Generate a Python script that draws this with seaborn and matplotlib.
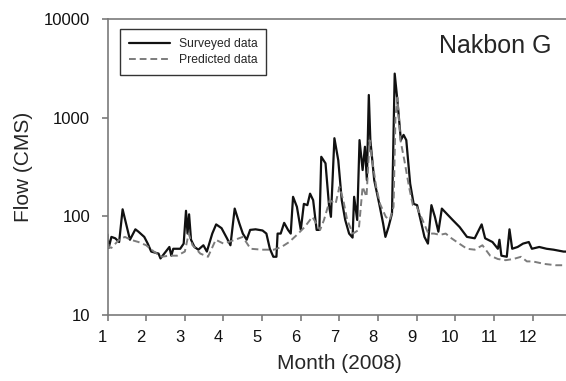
import matplotlib
matplotlib.use("Agg")
import matplotlib.pyplot as plt
import matplotlib.transforms as mtransforms
import seaborn as sns
import pandas as pd

# surveyed flow (month position, CMS)
surveyed_month = [1.0, 1.03, 1.1, 1.2, 1.3, 1.39, 1.58, 1.72, 1.8, 1.95,
                  2.04, 2.13, 2.32, 2.37, 2.6, 2.65, 2.7, 2.88, 2.97, 3.03,
                  3.07, 3.11, 3.16, 3.25, 3.35, 3.48, 3.57, 3.71, 3.81, 3.95,
                  4.09, 4.18, 4.29, 4.41, 4.5, 4.6, 4.69, 4.83, 5.01, 5.11,
                  5.2, 5.29, 5.37, 5.4, 5.48, 5.57, 5.67, 5.74, 5.8, 5.9,
                  6.0, 6.08, 6.17, 6.24, 6.32, 6.41, 6.48, 6.53, 6.64, 6.73,
                  6.78, 6.87, 6.97, 7.06, 7.15, 7.25, 7.34, 7.38, 7.46, 7.52,
                  7.6, 7.66, 7.71, 7.76, 7.8, 7.9, 8.03, 8.13, 8.19, 8.27,
                  8.36, 8.43, 8.5, 8.59, 8.66, 8.73, 8.83, 8.92, 9.01, 9.1,
                  9.2, 9.29, 9.38, 9.47, 9.56, 9.65, 9.79, 9.93, 10.11, 10.3,
                  10.5, 10.68, 10.77, 10.96, 11.1, 11.14, 11.19, 11.33, 11.4, 11.47,
                  11.61, 11.75, 11.9, 11.98, 12.17, 12.36, 12.54, 12.8, 13.0]
surveyed_flow = [65, 48, 62, 60, 55, 118, 58, 74, 70, 62,
                 53, 44, 42, 37.5, 49, 40, 47, 47, 53, 114,
                 67, 105, 58, 49, 46, 51, 44, 67, 83, 76,
                 60, 51, 120, 85, 67, 58, 73, 74, 72, 67,
                 47, 39, 39, 67, 67, 86, 73, 67, 158, 125,
                 73, 134, 130, 170, 146, 73, 73, 402, 345, 130,
                 99, 620, 370, 146, 92, 67, 61, 158, 92, 593,
                 295, 508, 233, 1700, 593, 233, 134, 85, 62, 78,
                 107, 2800, 1500, 593, 670, 593, 215, 134, 130, 92,
                 62, 53, 130, 99, 70, 120, 105, 92, 78, 62,
                 60, 83, 60, 55, 47, 58, 40, 39, 74, 47,
                 49, 53, 55, 47, 49, 47, 46, 44, 44]

# predicted flow
predicted_month = [1.0, 1.03, 1.1, 1.3, 1.45, 1.6, 1.8, 2.0, 2.2, 2.4,
                   2.6, 2.8, 3.0, 3.1, 3.2, 3.4, 3.6, 3.8, 4.0, 4.3,
                   4.5, 4.7, 5.0, 5.3, 5.5, 5.7, 5.9, 6.1, 6.3, 6.5,
                   6.6, 6.75, 6.9, 7.0, 7.1, 7.2, 7.35, 7.5, 7.6, 7.7,
                   7.78, 7.85, 7.95, 8.05, 8.2, 8.3, 8.4, 8.45, 8.5, 8.58,
                   8.68, 8.8, 8.9, 9.0, 9.15, 9.3, 9.45, 9.6, 9.75, 9.9,
                   10.1, 10.3, 10.5, 10.7, 10.9, 11.1, 11.3, 11.5, 11.7, 11.85,
                   12.0, 12.3, 12.6, 13.0]
predicted_flow = [67, 49, 48, 58, 62, 58, 55, 51, 44, 39,
                  40, 40, 44, 67, 51, 42, 39, 58, 53, 58,
                  62, 47, 46, 46, 49, 55, 65, 78, 99, 73,
                  92, 146, 134, 200, 146, 92, 67, 73, 200, 158,
                  590, 370, 200, 134, 99, 92, 125, 1020, 1600, 590,
                  370, 200, 130, 125, 92, 67, 67, 65, 67, 60,
                  53, 47, 46, 51, 40, 37, 36, 37, 39, 35,
                  35, 33, 32, 32]

month_ticks = list(range(1, 13))
flow_ticks = [10, 100, 1000, 10000]

sns.set_style("ticks")
plt.rcParams['font.family'] = ['Liberation Sans', 'DejaVu Sans']

surv = pd.DataFrame({'month': surveyed_month, 'flow': surveyed_flow})
pred = pd.DataFrame({'month': predicted_month, 'flow': predicted_flow})

fig = plt.figure(figsize=(5.66, 3.81), dpi=100)
ax = fig.add_axes([0.190, 0.173, 0.8194, 0.777])

sns.lineplot(x='month', y='flow', data=surv, ax=ax, color='#111111',
             linewidth=1.6, label='Surveyed data')
sns.lineplot(x='month', y='flow', data=pred, ax=ax, color='#7c7c7c',
             linewidth=1.4, label='Predicted data')
ax.lines[1].set_dashes([3.5, 2])

ax.set_yscale('log')
ax.set_ylim(10, 10000)
ax.set_xlim(1, 13)
ax.set_xticks(month_ticks)
ax.set_yticks(flow_ticks)
ax.set_yticklabels([str(v) for v in flow_ticks])
ax.minorticks_off()
ax.tick_params(axis='both', labelsize=12, length=4.5, width=1.2,
               color='#7a7a7a', labelcolor='#111111', direction='out')
ax.tick_params(axis='y', pad=8)
ax.tick_params(axis='x', pad=6)

shift = mtransforms.ScaledTranslation(-5 / 100, 0, fig.dpi_scale_trans)
for lab in ax.get_xticklabels():
    lab.set_transform(lab.get_transform() + shift)

for s in ax.spines.values():
    s.set_color('#7a7a7a')
    s.set_linewidth(1.2)

ax.set_xlabel('Month (2008)', fontsize=15, labelpad=7)
ax.set_ylabel('Flow (CMS)', fontsize=15, labelpad=8)

ax.text(0.958, 0.909, 'Nakbon G', transform=ax.transAxes, fontsize=18,
        ha='right', va='center')

leg = ax.legend(loc='upper left', bbox_to_anchor=(0.027, 0.965),
                fontsize=8.7, frameon=True, fancybox=False,
                handlelength=3.4, handletextpad=0.8, labelspacing=0.35,
                borderpad=0.7, borderaxespad=0)
leg.get_frame().set_edgecolor('#333333')
leg.get_frame().set_linewidth(1.0)
leg.get_frame().set_alpha(1)

fig.savefig('out.png', dpi=100)
